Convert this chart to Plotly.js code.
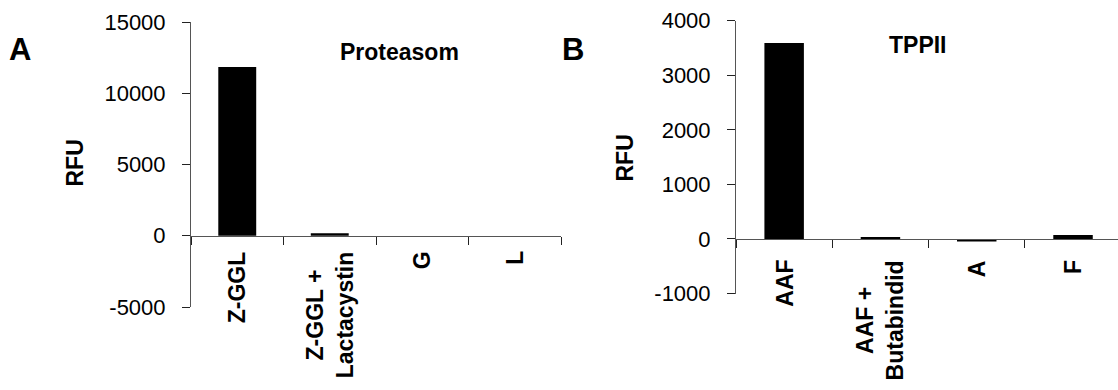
<!DOCTYPE html>
<html>
<head>
<meta charset="utf-8">
<script src="https://cdn.plot.ly/plotly-3.0.1.min.js"></script>
<style>html,body{margin:0;padding:0;background:#fff;}#chart{width:1118px;height:390px;}</style>
</head>
<body>
<div id="chart"></div>
<script>
// ---- data ----
const categoriesA = ['Z-GGL', 'Z-GGL + Lactacystin', 'G', 'L'];
const labelsA = ['Z-GGL', 'Z-GGL +<br>Lactacystin', 'G', 'L'];
const valuesA = [11850, 180, 0, 0];
const yTicksA = [-5000, 0, 5000, 10000, 15000];

const categoriesB = ['AAF', 'AAF + Butabindid', 'A', 'F'];
const labelsB = ['AAF', 'AAF +<br>Butabindid', 'A', 'F'];
const valuesB = [3590, 35, -45, 70];
const yTicksB = [-1000, 0, 1000, 2000, 3000, 4000];

const titleA = 'Proteasom';
const titleB = 'TPPII';
const yTitle = 'RFU';

// ---- layout helpers ----
const W = 1118, H = 390;
const px = p => p / W;
const py = p => 1 - p / H;
const FONT = 'Liberation Sans, Arial, Helvetica, sans-serif';

const xDomA = [px(191), px(561)], yDomA = [py(307), py(22)], yRangeA = [-5000, 15000];
const xDomB = [px(736), 1], yDomB = [py(293.5), py(20.7)], yRangeB = [-1000, 4000];
const zeroPos = (dom, r) => dom[0] + (0 - r[0]) / (r[1] - r[0]) * (dom[1] - dom[0]);

const axisLine = '#555';
function yAxis(dom, range, ticks, anchor) {
  return {
    domain: dom, range: range, anchor: anchor,
    tickvals: ticks, ticktext: ticks.map(String),
    ticks: 'outside', ticklen: 8, tickcolor: '#222', tickwidth: 1,
    showline: true, linecolor: axisLine, linewidth: 1,
    showgrid: false, zeroline: false, fixedrange: true,
    tickfont: {family: FONT, size: 22, color: '#000'},
    ticklabelstandoff: 12
  };
}
function xAxis(dom, range, pos) {
  return {
    domain: dom, range: range, type: 'category',
    anchor: 'free', position: pos,
    ticks: 'outside', tickson: 'boundaries', ticklen: 8, tickcolor: '#222', tickwidth: 1,
    showline: true, linecolor: axisLine, linewidth: 1,
    showgrid: false, zeroline: false, showticklabels: false, fixedrange: true
  };
}

const traces = [
  {type: 'bar', x: categoriesA, y: valuesA, xaxis: 'x', yaxis: 'y',
   marker: {color: '#000', line: {width: 0}}, hoverinfo: 'x+y'},
  {type: 'bar', x: categoriesB, y: valuesB, xaxis: 'x2', yaxis: 'y2',
   marker: {color: '#000', line: {width: 0}}, hoverinfo: 'x+y'}
];

const bold = (size) => ({family: FONT, size: size, color: '#000', weight: 'bold'});
const annotations = [];
// category labels
categoriesA.forEach((c, i) => annotations.push({
  xref: 'x', yref: 'paper', x: c, y: py(249), text: '<b>' + labelsA[i] + '</b>',
  textangle: -90, xanchor: 'center', yanchor: 'top', align: 'center', showarrow: false,
  font: bold(23)
}));
categoriesB.forEach((c, i) => annotations.push({
  xref: 'x2', yref: 'paper', x: c, y: py(258), text: '<b>' + labelsB[i] + '</b>',
  textangle: -90, xanchor: 'center', yanchor: 'top', align: 'center', showarrow: false,
  font: bold(23)
}));
// panel titles / letters / y titles
[
  {t: titleA, x: 399, y: 52, s: 23},
  {t: titleB, x: 918, y: 45, s: 23},
  {t: 'A', x: 20, y: 50, s: 31},
  {t: 'B', x: 573, y: 50, s: 31}
].forEach(a => annotations.push({
  xref: 'paper', yref: 'paper', x: px(a.x), y: py(a.y), text: '<b>' + a.t + '</b>',
  xanchor: 'center', yanchor: 'middle', showarrow: false, font: bold(a.s)
}));
[{x: 74, y: 163.5}, {x: 624, y: 158.5}].forEach(a => annotations.push({
  xref: 'paper', yref: 'paper', x: px(a.x), y: py(a.y), text: '<b>' + yTitle + '</b>',
  textangle: -90, xanchor: 'center', yanchor: 'middle', showarrow: false, font: bold(23)
}));

const layout = {
  width: W, height: H,
  margin: {l: 0, r: 0, t: 0, b: 0, pad: 0},
  paper_bgcolor: '#fff', plot_bgcolor: 'rgba(0,0,0,0)',
  showlegend: false, bargap: 0.59,
  font: {family: FONT, color: '#000'},
  xaxis: xAxis(xDomA, [-0.5, 3.5], zeroPos(yDomA, yRangeA)),
  yaxis: yAxis(yDomA, yRangeA, yTicksA, 'x'),
  xaxis2: xAxis(xDomB, [-0.5, 3.467], zeroPos(yDomB, yRangeB)),
  yaxis2: yAxis(yDomB, yRangeB, yTicksB, 'x2'),
  annotations: annotations
};

Plotly.newPlot('chart', traces, layout, {displayModeBar: false, staticPlot: true});
</script>
</body>
</html>
